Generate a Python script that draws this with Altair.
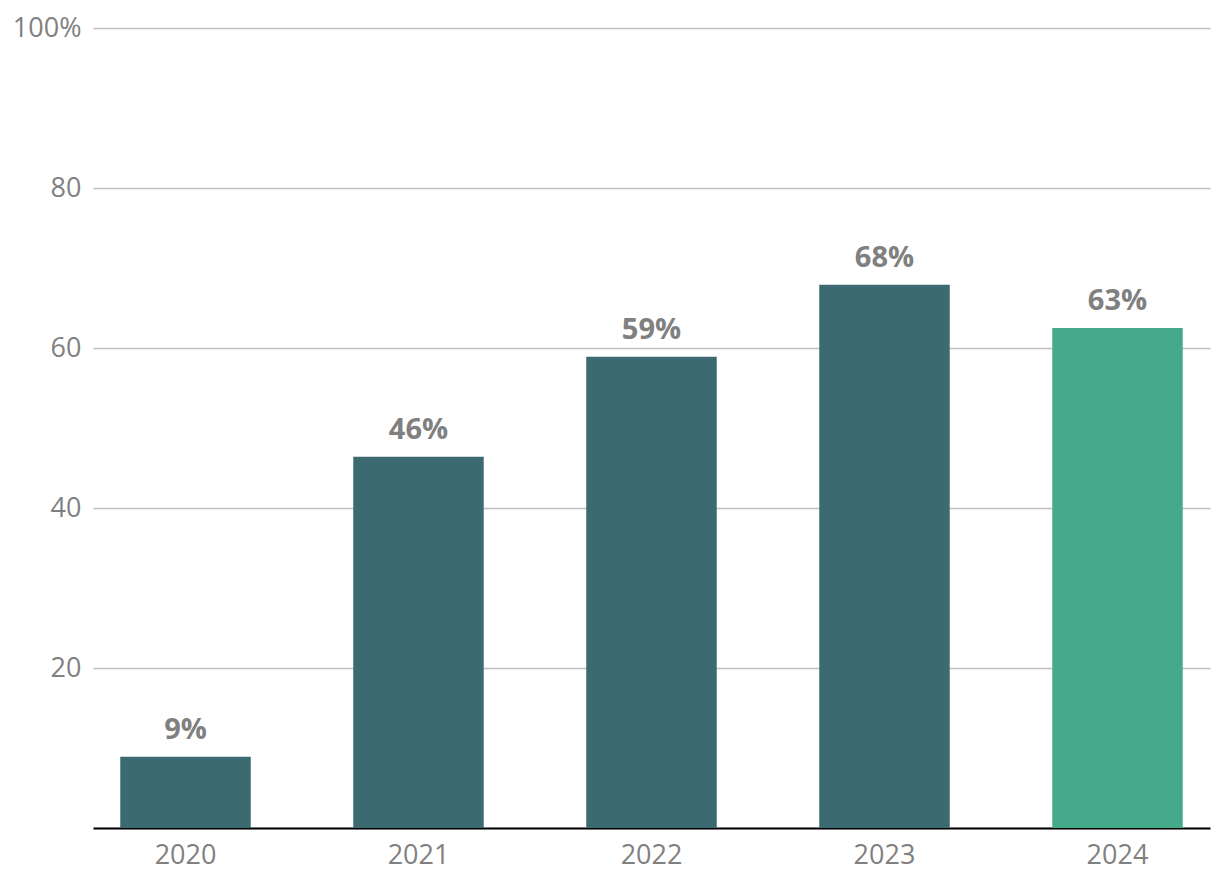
import altair as alt
import pandas as pd

years = ["2020", "2021", "2022", "2023", "2024"]
values = [8.9, 46.4, 58.9, 67.9, 62.5]
labels = ["9%", "46%", "59%", "68%", "63%"]
colors = ["#3c6a71", "#3c6a71", "#3c6a71", "#3c6a71", "#44aa8a"]

df = pd.DataFrame({"year": years, "value": values, "label": labels, "color": colors})

FONT = "Open Sans"
GRAY = "#808080"

x = alt.X("year:N", sort=years,
          scale=alt.Scale(paddingInner=0.44, paddingOuter=0.117),
          axis=alt.Axis(title=None, labelAngle=0, ticks=False, domainColor="#000000",
                        domainWidth=2, labelFontSize=27, labelColor=GRAY, labelFont=FONT,
                        labelPadding=14, grid=False))
y = alt.Y("value:Q", scale=alt.Scale(domain=[0, 100], nice=False),
          axis=alt.Axis(title=None, values=[0, 20, 40, 60, 80, 100], ticks=False, domain=False,
                        labelExpr="datum.value == 100 ? '100%' : datum.value == 0 ? '' : datum.label",
                        labelFontSize=27, labelColor=GRAY, labelFont=FONT, labelPadding=12,
                        gridColor="#bfbfbf", gridWidth=1.5))

bars = alt.Chart(df).mark_bar().encode(x=x, y=y, color=alt.Color("color:N", scale=None))
text = alt.Chart(df).mark_text(baseline="bottom", dy=-12, fontSize=29, fontWeight="bold",
                               font=FONT, color=GRAY).encode(
    x=alt.X("year:N", sort=years), y="value:Q", text="label:N")

chart = (bars + text).properties(
    width=1117, height=800,
    autosize=alt.AutoSizeParams(type="none"),
    padding={"left": 85, "top": 20, "right": 2, "bottom": 50},
).configure_view(stroke=None)

chart.save("out.html", embed_options={"renderer": "svg", "actions": False})
